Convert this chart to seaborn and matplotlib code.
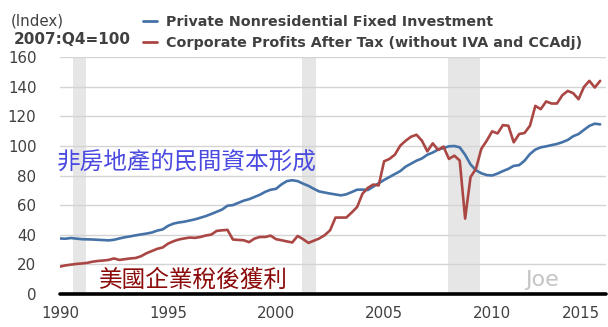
import numpy as np
import pandas as pd
import matplotlib
matplotlib.use("Agg")
import matplotlib.pyplot as plt
import seaborn as sns

# ---------------- data (quarterly, 1990Q1 .. 2015Q1) ----------------
investment = [
    37.5, 37.3, 37.8, 37.4,   # 1990
    37.0, 36.9, 36.8, 36.6,   # 1991
    36.4, 36.2, 36.6, 37.5,   # 1992
    38.3, 38.9, 39.6, 40.2,   # 1993
    40.8, 41.5, 42.8, 43.6,   # 1994
    46.0, 47.5, 48.3, 48.8,   # 1995
    49.6, 50.4, 51.5, 52.6,   # 1996
    54.0, 55.5, 57.0, 59.6,   # 1997
    60.0, 61.5, 63.0, 64.0,   # 1998
    65.5, 67.0, 69.0, 70.4,   # 1999
    71.0, 74.0, 76.2, 76.8,   # 2000
    76.2, 74.5, 73.0, 71.0,   # 2001
    69.2, 68.5, 67.8, 67.2,   # 2002
    66.6, 67.3, 68.8, 70.4,   # 2003
    70.5, 70.2, 72.5, 74.8,   # 2004
    77.0, 79.0, 81.0, 83.0,   # 2005
    86.0, 88.0, 90.0, 91.5,   # 2006
    94.0, 95.5, 97.5, 98.5,   # 2007
    99.7, 99.9, 99.0, 94.0,   # 2008
    87.5, 83.5, 81.5, 80.3,   # 2009
    80.0, 81.3, 83.0, 84.5,   # 2010
    86.5, 87.0, 90.0, 94.5,   # 2011
    97.5, 99.0, 99.7, 100.5,  # 2012
    101.3, 102.5, 104.0, 106.5,  # 2013
    108.0, 110.8, 113.5, 115.0,  # 2014
    114.5,                    # 2015
]
profits = [
    18.5, 19.3, 19.8, 20.3,   # 1990
    20.6, 21.0, 21.8, 22.3,   # 1991
    22.6, 23.0, 24.0, 23.0,   # 1992
    23.5, 24.0, 24.3, 25.5,   # 1993
    27.5, 29.0, 30.5, 31.4,   # 1994
    34.0, 35.6, 36.8, 37.5,   # 1995
    38.1, 37.9, 38.5, 39.5,   # 1996
    40.1, 42.6, 43.0, 43.3,   # 1997
    36.8, 36.5, 36.3, 35.0,   # 1998
    37.4, 38.5, 38.5, 39.4,   # 1999
    37.0, 36.3, 35.5, 34.8,   # 2000
    39.2, 37.0, 34.5, 36.0,   # 2001
    37.5, 39.7, 43.0, 51.6,   # 2002
    51.6, 51.6, 55.0, 58.7,   # 2003
    67.7, 71.7, 73.9, 73.3,   # 2004
    89.6, 91.2, 94.1, 100.2,  # 2005
    103.5, 106.2, 107.5, 103.5,  # 2006
    96.3, 101.7, 97.3, 99.5,  # 2007
    91.2, 93.4, 90.1, 50.9,   # 2008
    78.9, 84.5, 98.0, 103.5,  # 2009
    109.8, 108.4, 114.0, 113.6,  # 2010
    102.4, 108.0, 108.7, 113.6,  # 2011
    127.0, 124.8, 130.0, 128.6,  # 2012
    128.6, 134.2, 137.1, 135.6,  # 2013
    131.5, 139.8, 143.9, 139.4,  # 2014
    143.9,                    # 2015
]
series_names = ["Private Nonresidential Fixed Investment",
                "Corporate Profits After Tax (without IVA and CCAdj)"]
recessions = [(1990.58, 1991.2), (2001.2, 2001.87), (2007.95, 2009.45)]
year_ticks = [1990, 1995, 2000, 2005, 2010, 2015]
y_ticks = [0, 20, 40, 60, 80, 100, 120, 140, 160]

quarters = 1990 + np.arange(len(investment)) * 0.25
df = pd.concat([
    pd.DataFrame({"year": quarters, "value": investment, "series": series_names[0]}),
    pd.DataFrame({"year": quarters, "value": profits, "series": series_names[1]}),
])

# ---------------- style ----------------
sns.set_style("white")
plt.rcParams["font.family"] = ["DejaVu Sans"]
TXT = "#404040"

W, H = 608, 327
fig = plt.figure(figsize=(W / 100, H / 100), dpi=100)
ax = fig.add_axes([60 / W, 1 - 294 / H, (606 - 60) / W, (294 - 57) / H])

for a, b in recessions:
    ax.axvspan(a, b, color="#e6e6e6", lw=0, zorder=0)
for yv in y_ticks[1:]:
    ax.axhline(yv, color="#d4d4d4", lw=1.0, zorder=0.5)

palette = {series_names[0]: "#4572A7", series_names[1]: "#AA4643"}
sns.lineplot(data=df, x="year", y="value", hue="series", palette=palette,
             linewidth=1.9, ax=ax, legend=False, zorder=3)

ax.set_xlim(1990, 2015.27)
ax.set_ylim(0, 160)
ax.set_xlabel("")
ax.set_ylabel("")
for s in ["top", "right", "left", "bottom"]:
    ax.spines[s].set_visible(False)
# black x-axis baseline
ax.axhline(0, color="#000000", lw=2.6, zorder=6, clip_on=False)

ax.set_yticks(y_ticks)
ax.set_yticklabels([str(v) for v in y_ticks], fontsize=10.8, color=TXT)
ax.tick_params(axis="y", length=0, pad=17)
ax.set_xticks(year_ticks)
ax.set_xticklabels([str(v) for v in year_ticks], fontsize=10.8, color=TXT)
ax.tick_params(axis="x", direction="out", length=8, width=1, color="#c0d0e0", pad=1)
lbls = ax.get_xticklabels()
lbls[-1].set_horizontalalignment("right")

# legend
handles = [plt.Line2D([], [], color=palette[n], lw=2) for n in series_names]
fig.legend(handles, series_names, loc="upper left",
           bbox_to_anchor=(143 / W, 1 - 15 / H), frameon=False,
           prop={"weight": "bold", "size": 10.3}, labelcolor=TXT,
           handlelength=1.0, handletextpad=0.6, labelspacing=0.5,
           borderaxespad=0, borderpad=0)

fig.text(11 / W, 1 - 21 / H, "(Index)", fontsize=10.8, color=TXT, va="center")
fig.text(14 / W, 1 - 40 / H, "2007:Q4=100", fontsize=11, color=TXT,
         weight="bold", va="center")

cjk = ["Noto Sans CJK TC", "DejaVu Sans"]
ax.text(1989.85, 89.0, "非房地產的民間資本形成", family=cjk, fontsize=17,
        color="#4a4ae0", va="center", ha="left", zorder=5)
ax.text(1991.8, 9.6, "美國企業稅後獲利", family=cjk, fontsize=17,
        color="#8b0a0a", va="center", ha="left", zorder=5)
ax.text(2011.55, 9.5, "Joe", fontsize=16, color="#c4c4c4", va="center",
        ha="left", zorder=5)

fig.savefig("out.png", dpi=100)
